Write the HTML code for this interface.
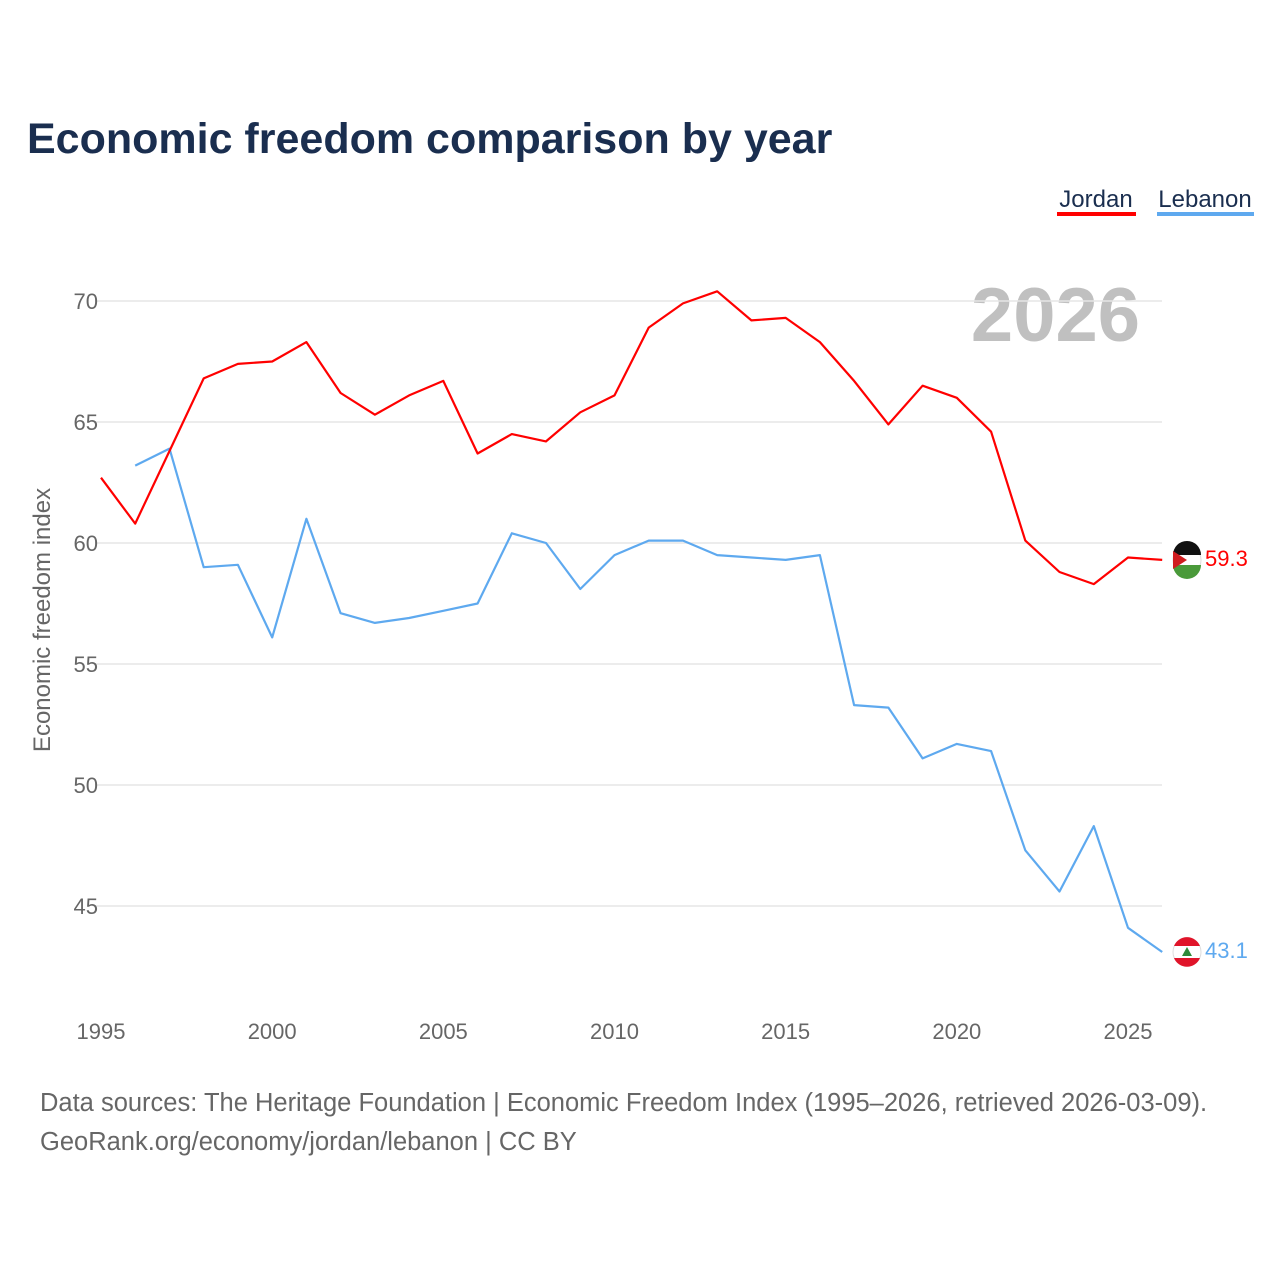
<!DOCTYPE html>
<html><head><meta charset="utf-8"><style>
body{margin:0;background:#fff;font-family:"Liberation Sans",sans-serif;}
svg text{font-family:"Liberation Sans",sans-serif;}
</style></head><body>
<svg id="c" width="1280" height="1280" xmlns="http://www.w3.org/2000/svg">
<text x="27" y="153" font-size="43" font-weight="bold" fill="#1a2e4f">Economic freedom comparison by year</text>
<g><text x="1096" y="207" font-size="24" fill="#1a2e4f" text-anchor="middle">Jordan</text><rect x="1057" y="212" width="79" height="4" fill="#ff0000"/></g>
<g><text x="1205" y="207" font-size="24" fill="#1a2e4f" text-anchor="middle">Lebanon</text><rect x="1157" y="212" width="97" height="4" fill="#5ea9ef"/></g>
<text x="1140" y="341" font-size="76" font-weight="bold" fill="#c0c0c0" text-anchor="end">2026</text>
<g id="grid"></g><g id="lines"></g>
<text transform="translate(50,620) rotate(-90)" font-size="24" fill="#666" text-anchor="middle">Economic freedom index</text>
<text x="40" y="1111" font-size="25.5" fill="#666">Data sources: The Heritage Foundation | Economic Freedom Index (1995–2026, retrieved 2026-03-09).</text>
<text x="40" y="1150" font-size="25.5" fill="#666">GeoRank.org/economy/jordan/lebanon | CC BY</text>
</svg>
<script>
const years=[1995,1996,1997,1998,1999,2000,2001,2002,2003,2004,2005,2006,2007,2008,2009,2010,2011,2012,2013,2014,2015,2016,2017,2018,2019,2020,2021,2022,2023,2024,2025,2026];
const jordan=[62.7,60.8,63.8,66.8,67.4,67.5,68.3,66.2,65.3,66.1,66.7,63.7,64.5,64.2,65.4,66.1,68.9,69.9,70.4,69.2,69.3,68.3,66.7,64.9,66.5,66.0,64.6,60.1,58.8,58.3,59.4,59.3];
const lebanon=[null,63.2,63.9,59.0,59.1,56.1,61.0,57.1,56.7,56.9,57.2,57.5,60.4,60.0,58.1,59.5,60.1,60.1,59.5,59.4,59.3,59.5,53.3,53.2,51.1,51.7,51.4,47.3,45.6,48.3,44.1,43.1];
const yTicks=[45,50,55,60,65,70];
const xTicks=[1995,2000,2005,2010,2015,2020,2025];
const X=y=>101+(y-1995)*34.233;
const Y=v=>301+(70-v)*24.2;
const NS="http://www.w3.org/2000/svg";
const g=document.getElementById('grid'),L=document.getElementById('lines');
function mk(t,a,p){const e=document.createElementNS(NS,t);for(const k in a)e.setAttribute(k,a[k]);p.appendChild(e);return e;}
yTicks.forEach(v=>{
 const l=mk('line',{x1:95,x2:1162,y1:Y(v),y2:Y(v),stroke:'#e6e6e6','stroke-width':1.5},g);
 
 
 const t=mk('text',{x:98,y:Y(v)+8,'font-size':22,fill:'#666','text-anchor':'end'},g);t.textContent=v;
 
 
});
xTicks.forEach(v=>{
 const t=mk('text',{x:X(v),y:1039,'font-size':22,fill:'#666','text-anchor':'middle'},g);t.textContent=v;
 
 
});
function line(data,col,name){
 let d='';data.forEach((v,i)=>{if(v==null)return;d+=(d?'L':'M')+X(years[i]).toFixed(1)+','+Y(v).toFixed(1);});
 const p=mk('path',{d:d,fill:'none',stroke:col,'stroke-width':2.2,'stroke-linejoin':'round'},L);
 
 
 const last=data[data.length-1],cx=1187,cy=Y(last);
 const c=mk('circle',{cx:cx,cy:cy,r:14,fill:'#fff',stroke:'#ddd'},L);
 
 
 if(name==='jordan'){
  mk('path',{d:`M${cx-14},${cy-5}A14,14 0 0 1 ${cx+14},${cy-5}Z`,fill:'#111'},L);
  mk('path',{d:`M${cx-14},${cy+5}A14,14 0 0 0 ${cx+14},${cy+5}Z`,fill:'#4a9a3a'},L);
  mk('path',{d:`M${cx-14},${cy-9}L${cx},${cy}L${cx-14},${cy+9}Z`,fill:'#d01c1f'},L);
 }else{
  mk('path',{d:`M${cx-13},${cy-6}A14,14 0 0 1 ${cx+13},${cy-6}Z`,fill:'#e0142a'},L);
  mk('path',{d:`M${cx-13},${cy+6}A14,14 0 0 0 ${cx+13},${cy+6}Z`,fill:'#e0142a'},L);
  mk('path',{d:`M${cx},${cy-5}L${cx+5},${cy+4}L${cx-5},${cy+4}Z`,fill:'#2f8a3a'},L);
 }
 const t=mk('text',{x:1205,y:cy+6,'font-size':22,fill:col},L);t.textContent=last.toFixed(1);
 
 
}
line(lebanon,'#5ea9ef','lebanon');
line(jordan,'#ff0000','jordan');
</script>
</body></html>
